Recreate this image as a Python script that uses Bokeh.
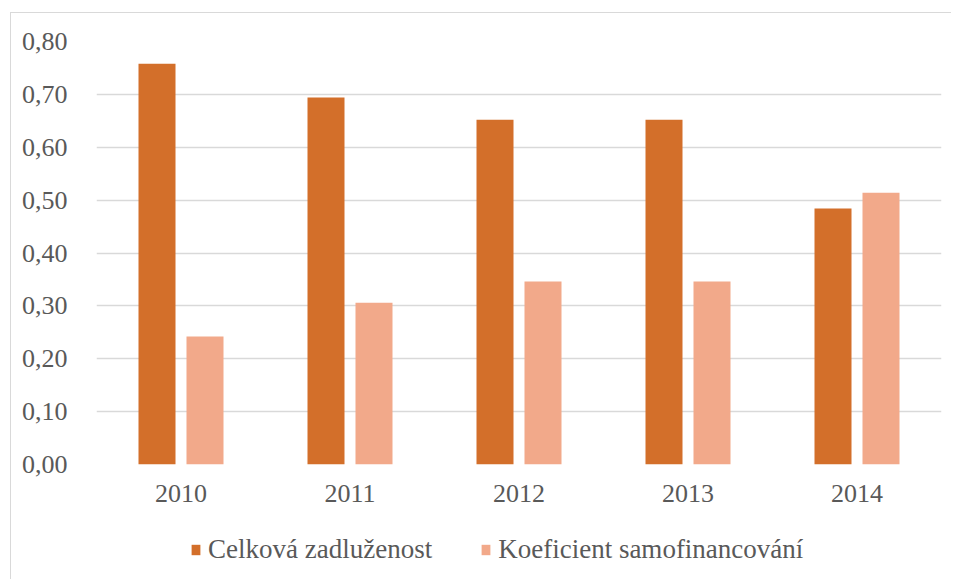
from bokeh.plotting import figure
from bokeh.layouts import column
from bokeh.models import ColumnDataSource, FactorRange, Range1d, FixedTicker, CustomJSTickFormatter, Legend, LegendItem
from bokeh.transform import dodge
from bokeh.embed import file_html
from bokeh.resources import INLINE

years = ["2010", "2011", "2012", "2013", "2014"]
celkova = [0.758, 0.694, 0.652, 0.652, 0.484]
koef = [0.242, 0.306, 0.346, 0.346, 0.514]
series_names = ["Celková zadluženost", "Koeficient samofinancování"]
colors = ["#D36F2A", "#F2A98A"]
y_ticks = [0.0, 0.1, 0.2, 0.3, 0.4, 0.5, 0.6, 0.7, 0.8]

src = ColumnDataSource(dict(year=years, celkova=celkova, koef=koef))

FONT = "Liberation Serif"
TXT = "#595959"
FS = "26px"

p = figure(x_range=FactorRange(*years), y_range=Range1d(0, 0.8),
           width=940, height=501, output_backend="svg", toolbar_location=None,
           min_border_left=85, min_border_right=10, min_border_top=28, min_border_bottom=50)
p.outline_line_color = None
p.background_fill_color = "white"
p.border_fill_color = "white"

p.vbar(x=dodge("year", -0.142, range=p.x_range), top="celkova", width=0.219,
       source=src, fill_color=colors[0], line_color=None)
p.vbar(x=dodge("year", 0.142, range=p.x_range), top="koef", width=0.219,
       source=src, fill_color=colors[1], line_color=None)

p.xgrid.grid_line_color = None
p.ygrid.grid_line_color = "#D9D9D9"
p.ygrid.grid_line_width = 1.5
p.ygrid.ticker = FixedTicker(ticks=y_ticks)

p.yaxis.ticker = FixedTicker(ticks=y_ticks)
p.yaxis.formatter = CustomJSTickFormatter(code="return tick.toFixed(2).replace('.', ',');")
for ax in (p.xaxis[0], p.yaxis[0]):
    ax.axis_line_color = None
    ax.major_tick_line_color = None
    ax.minor_tick_line_color = None
    ax.major_label_text_font = FONT
    ax.major_label_text_font_size = FS
    ax.major_label_text_color = TXT
p.yaxis.major_label_standoff = 23
p.xaxis.major_label_standoff = 14

# legend strip below the chart (its bars lie outside its visible y range)
p2 = figure(x_range=FactorRange(*years), y_range=Range1d(1, 2), width=940, height=65,
            output_backend="svg", toolbar_location=None,
            min_border_left=0, min_border_right=0, min_border_top=0, min_border_bottom=0)
p2.axis.visible = False
p2.grid.visible = False
p2.outline_line_color = None
g1 = p2.vbar(x="year", top="celkova", width=0.2, source=src, fill_color=colors[0], line_color=None)
g2 = p2.vbar(x="year", top="koef", width=0.2, source=src, fill_color=colors[1], line_color=None)
legend = Legend(items=[LegendItem(label=series_names[0], renderers=[g1]),
                       LegendItem(label=series_names[1], renderers=[g2])],
                orientation="horizontal", location=(94, 14),
                label_text_font=FONT, label_text_font_size="27px", label_text_color=TXT,
                glyph_width=11, glyph_height=13, spacing=48, label_standoff=7,
                border_line_color=None, background_fill_alpha=0, margin=0, padding=2)
p2.add_layout(legend, "center")

layout = column(p, p2, spacing=0, margin=(12, 0, 0, 10),
                styles={"border-left": "1px solid #D9D9D9", "border-top": "1px solid #D9D9D9"})

open("out.html", "w").write(file_html(layout, INLINE))
